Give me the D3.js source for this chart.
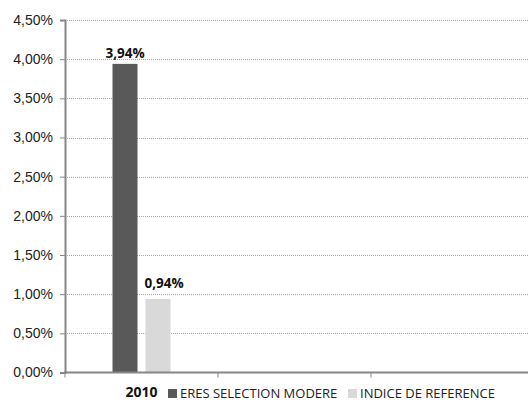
<!DOCTYPE html>
<html>
<head>
<meta charset="utf-8">
<script src="https://cdn.jsdelivr.net/npm/d3@7"></script>
<style>
  body { margin: 0; background: #fff; }
  svg { display: block; font-family: "Open Sans", sans-serif; }
</style>
</head>
<body>
<div id="chart"></div>
<script>
// data
const categories = ["2010", "", " "];
const seriesNames = ["ERES SELECTION MODERE", "INDICE DE REFERENCE"];
const seriesColors = ["#595959", "#d9d9d9"];
const values2010 = [3.94, 0.94];
const yTicks = [0, 0.5, 1, 1.5, 2, 2.5, 3, 3.5, 4, 4.5];

const width = 528, height = 403;
const margin = {top: 20, right: 4, bottom: 30.5, left: 65};

const svg = d3.select("#chart").append("svg")
    .attr("width", width)
    .attr("height", height);

// scales
let x = d3.scaleBand()
    .domain(categories)
    .range([margin.left, width - margin.right]);
let y = d3.scaleLinear()
    .domain([0, 4.5])
    .range([height - margin.bottom, margin.top]);
let x1 = d3.scaleBand()
    .domain(seriesNames)
    .range([x.bandwidth() / 2 - 29, x.bandwidth() / 2 + 29])
    .paddingInner(8 / 33);

const fmt = v => d3.format(".2f")(v).replace(".", ",") + "%";

// gridlines (dotted)
svg.append("g")
    .selectAll("line")
    .data(yTicks.filter(d => d > 0))
    .join("line")
    .attr("x1", margin.left)
    .attr("x2", width)
    .attr("y1", d => Math.round(y(d)) + 0.5)
    .attr("y2", d => Math.round(y(d)) + 0.5)
    .attr("stroke", "#a6a6a6")
    .attr("stroke-width", 1)
    .attr("stroke-dasharray", "1,1");

// y axis
const yAxis = svg.append("g")
    .attr("transform", `translate(${margin.left},0)`)
    .call(d3.axisLeft(y).tickValues(yTicks).tickFormat(fmt).tickSize(5).tickPadding(7));
yAxis.select(".domain").attr("stroke", "#868686").attr("stroke-width", 2);
yAxis.selectAll(".tick line").attr("stroke", "#868686");
yAxis.selectAll(".tick text")
    .style("font-size", "14px")
    .attr("fill", "#222");

// bars
const bars = svg.append("g")
    .attr("transform", `translate(${x("2010")},0)`);
bars.selectAll("rect")
    .data(values2010)
    .join("rect")
    .attr("x", (d, i) => x1(seriesNames[i]))
    .attr("y", d => y(d))
    .attr("width", x1.bandwidth())
    .attr("height", d => y(0) - y(d))
    .attr("fill", (d, i) => seriesColors[i]);

// value labels
bars.selectAll("text")
    .data(values2010)
    .join("text")
    .attr("x", (d, i) => x1(seriesNames[i]) + x1.bandwidth() / 2 + (i === 1 ? 6 : 0))
    .attr("y", (d, i) => y(d) - (i === 1 ? 11 : 6))
    .attr("text-anchor", "middle")
    .style("font-size", "13.5px")
    .style("font-weight", "bold")
    .attr("fill", "#111")
    .text(d => fmt(d));

// x axis
const xAxis = svg.append("g")
    .attr("transform", `translate(0,${y(0)})`);
xAxis.append("line")
    .attr("x1", margin.left - 1)
    .attr("x2", width)
    .attr("stroke", "#868686")
    .attr("stroke-width", 2);
xAxis.selectAll(".tickmark")
    .data(categories.map(c => x(c)))
    .join("line")
    .attr("class", "tickmark")
    .attr("x1", d => d)
    .attr("x2", d => d)
    .attr("y1", 0)
    .attr("y2", 5)
    .attr("stroke", "#868686");

// category label
svg.append("text")
    .attr("x", x("2010") + x.bandwidth() / 2)
    .attr("y", 397)
    .attr("text-anchor", "middle")
    .style("font-size", "14px")
    .style("font-weight", "bold")
    .attr("fill", "#111")
    .text("2010");

// legend
const legendX = [168, 348];
const legend = svg.append("g")
    .selectAll("g")
    .data(seriesNames)
    .join("g")
    .attr("transform", (d, i) => `translate(${legendX[i]},389)`);
legend.append("rect")
    .attr("width", 9)
    .attr("height", 9)
    .attr("fill", (d, i) => seriesColors[i]);
legend.append("text")
    .attr("x", 12)
    .attr("y", 9)
    .style("font-size", "13px")
    .attr("fill", "#222")
    .text(d => d);
</script>
</body>
</html>
